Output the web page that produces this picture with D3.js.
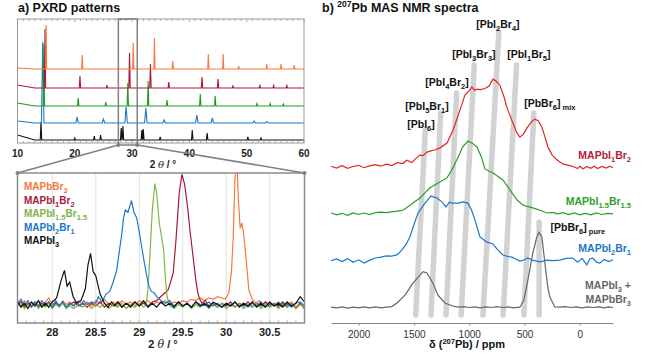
<!DOCTYPE html>
<html>
<head>
<meta charset="utf-8">
<script src="https://cdn.jsdelivr.net/npm/d3@7"></script>
<style>
  body { margin: 0; background: #fff; }
  text { font-family: 'Liberation Sans', Arial, sans-serif; }
</style>
</head>
<body>
<div id="chart"></div>
<script>
// ---------- data: a) PXRD overview (peaks as [2theta, height]) ----------
let pxrdNames = ['MAPbI_{3}', 'MAPbI_{2}Br_{1}', 'MAPbI_{1.5}Br_{1.5}', 'MAPbI_{1}Br_{2}', 'MAPbBr_{3}']
let pxrdOffsets = [3, 20, 37, 55, 74]
let pxrdLead = [5, 2, 3, 3, 1]
let pxrdWidths = [0.13, 0.22, 0.12, 0.12, 0.1]

let peaksI3 = [[14.1, 18], [20.0, 2], [23.4, 4], [24.5, 5], [28.1, 12], [28.4, 14], [31.7, 10], [31.95, 11], [34.9, 3], [40.5, 10], [43.1, 7], [50.2, 3], [52.5, 2]]
let peaksI2Br1 = [[14.4, 81], [20.4, 6], [25.0, 4], [28.95, 16], [32.4, 15], [35.6, 3], [41.3, 8], [44.0, 5], [51.3, 2], [53.5, 1.5]]
let peaksI15Br15 = [[14.6, 62], [20.6, 8], [25.4, 4], [29.25, 23], [32.8, 25], [36.1, 6], [41.9, 12], [44.5, 10], [51.8, 2.5], [54.1, 2.5], [56.4, 2]]
let peaksI1Br2 = [[14.8, 59], [20.9, 12], [25.6, 3], [29.55, 35], [33.2, 24], [36.4, 6], [42.2, 11], [45.0, 9], [47.6, 2], [52.3, 2.5], [54.7, 2.5], [57.0, 2.5]]
let peaksBr3 = [[15.0, 44], [21.3, 14], [30.2, 26], [33.9, 31], [37.1, 8], [43.3, 15], [45.9, 15], [48.6, 3], [53.5, 5], [56.0, 5], [58.3, 4]]
let pxrdPeaks = [peaksI3, peaksI2Br1, peaksI15Br15, peaksI1Br2, peaksBr3]
let topTicks = [10, 20, 30, 40, 50, 60]
let zoomRange = [27.6, 30.9]

// ---------- data: a) zoom 27.6 - 30.9 deg ----------
let zoomI3 = [[27.6, 2], [27.64, -2], [27.68, 1], [27.72, -3], [27.76, 2], [27.8, -1], [27.84, 3], [27.88, -2], [27.92, 1], [27.96, -2], [28.0, 2], [28.05, 5], [28.1, 18], [28.14, 26], [28.17, 14], [28.2, 17], [28.24, 6], [28.28, 1], [28.33, 3], [28.38, 12], [28.41, 30], [28.44, 39], [28.47, 25], [28.5, 22], [28.55, 8], [28.6, 1], [28.64, -2], [28.68, 2], [28.72, -1], [28.76, 2], [28.8, -2], [28.85, 1], [28.9, -2], [28.95, 2], [29.0, -1], [29.05, 3], [29.1, -2], [29.15, 1], [29.2, -2], [29.25, 2], [29.3, -1], [29.35, 1], [29.4, -2], [29.45, 2], [29.5, -1], [29.55, 1], [29.6, -2], [29.65, 2], [29.7, -1], [29.75, 1], [29.8, -2], [29.85, 2], [29.9, 0], [29.95, -2], [30.0, 1], [30.05, -1], [30.1, 2], [30.15, -2], [30.2, 1], [30.25, -1], [30.3, 2], [30.35, -2], [30.4, 1], [30.45, -2], [30.5, 2], [30.55, -1], [30.6, 1], [30.65, -2], [30.7, 2], [30.75, -1], [30.8, 1], [30.85, 6], [30.9, 2]]
let zoomI2Br1 = [[27.6, 1], [27.64, 4], [27.68, -1], [27.72, 3], [27.76, -2], [27.8, 2], [27.84, -1], [27.88, 3], [27.92, 0], [27.96, 2], [28.0, -2], [28.04, 3], [28.08, -1], [28.12, 2], [28.16, -2], [28.2, 1], [28.24, -1], [28.28, 2], [28.32, -1], [28.36, 3], [28.4, 0], [28.45, 2], [28.5, 1], [28.53, 6], [28.57, 2], [28.62, 8], [28.66, 10], [28.7, 17], [28.74, 26], [28.77, 40], [28.8, 54], [28.82, 66], [28.84, 72], [28.87, 70], [28.91, 79], [28.94, 70], [28.97, 66], [29.0, 55], [29.02, 47], [29.05, 35], [29.08, 24], [29.11, 14], [29.14, 10], [29.17, 9], [29.2, 6], [29.25, 3], [29.3, 1], [29.35, 3], [29.4, -1], [29.45, 2], [29.5, -1], [29.55, 1], [29.6, -2], [29.65, 2], [29.7, 0], [29.75, -1], [29.8, 2], [29.85, -1], [29.9, 1], [29.95, -2], [30.0, 1], [30.05, -1], [30.1, 2], [30.15, -1], [30.2, 1], [30.25, -2], [30.3, 1], [30.35, -1], [30.4, 2], [30.45, -2], [30.5, 1], [30.55, -1], [30.6, 2], [30.65, -1], [30.7, 1], [30.75, -2], [30.8, 1], [30.85, 2], [30.9, -1]]
let zoomI15Br15 = [[27.6, -1], [27.64, 1], [27.68, -3], [27.72, 0], [27.76, -2], [27.8, 1], [27.84, -3], [27.88, 0], [27.92, -2], [27.96, 1], [28.0, -3], [28.04, 0], [28.08, -2], [28.12, 1], [28.16, -3], [28.2, -1], [28.25, -3], [28.3, 0], [28.35, -2], [28.4, 1], [28.45, -3], [28.5, 0], [28.55, -2], [28.6, 1], [28.65, -3], [28.7, 0], [28.75, -2], [28.8, 1], [28.85, -3], [28.9, 0], [28.95, -2], [29.0, 1], [29.05, -2], [29.08, 0], [29.1, 12], [29.12, 34], [29.15, 72], [29.18, 92], [29.2, 85], [29.21, 77], [29.23, 62], [29.25, 54], [29.28, 42], [29.3, 20], [29.32, 6], [29.35, -1], [29.4, -3], [29.45, 0], [29.5, -2], [29.55, 1], [29.6, -3], [29.65, 0], [29.7, -2], [29.75, 1], [29.8, -3], [29.85, 0], [29.9, -2], [29.95, 1], [30.0, -3], [30.05, 0], [30.1, -2], [30.15, 1], [30.2, -3], [30.25, 0], [30.3, -2], [30.35, 1], [30.4, -3], [30.45, 0], [30.5, -2], [30.55, 1], [30.6, -3], [30.65, 0], [30.7, -2], [30.75, 1], [30.8, -3], [30.85, 0], [30.9, -2]]
let zoomI1Br2 = [[27.6, 0], [27.64, 2], [27.68, -2], [27.72, 1], [27.76, -1], [27.8, 2], [27.84, -2], [27.88, 1], [27.92, -1], [27.96, 2], [28.0, -2], [28.04, 1], [28.08, -1], [28.12, 2], [28.16, -2], [28.2, 0], [28.25, 2], [28.3, -1], [28.35, 1], [28.4, -2], [28.45, 1], [28.5, -1], [28.55, 2], [28.6, -2], [28.65, 1], [28.7, -1], [28.75, 2], [28.8, -2], [28.85, 1], [28.9, -1], [28.95, 2], [29.0, -1], [29.05, 1], [29.1, -1], [29.15, 2], [29.2, 3], [29.23, 5], [29.28, 8], [29.33, 11], [29.36, 17], [29.39, 24], [29.42, 47], [29.44, 66], [29.46, 85], [29.49, 99], [29.52, 92], [29.54, 82], [29.56, 72], [29.58, 58], [29.6, 47], [29.63, 30], [29.65, 19], [29.67, 10], [29.69, 5], [29.72, 1], [29.76, 3], [29.8, -1], [29.85, 1], [29.9, -2], [29.95, 1], [30.0, -1], [30.05, 2], [30.1, -2], [30.15, 1], [30.2, -1], [30.25, 2], [30.3, -2], [30.35, 1], [30.4, -1], [30.45, 2], [30.5, -2], [30.55, 1], [30.6, -1], [30.65, 2], [30.7, -2], [30.75, 1], [30.8, -3], [30.85, 1], [30.9, -3]]
let zoomBr3 = [[27.6, 2], [27.64, -1], [27.68, 3], [27.72, 0], [27.76, 2], [27.8, -1], [27.84, 3], [27.88, 0], [27.92, 2], [27.96, 5], [28.0, 0], [28.04, 2], [28.08, -1], [28.12, 3], [28.16, 0], [28.2, 2], [28.25, -1], [28.3, 3], [28.35, 0], [28.4, 2], [28.45, -1], [28.5, 3], [28.55, 1], [28.6, 4], [28.65, 0], [28.7, 2], [28.75, -1], [28.8, 3], [28.85, 0], [28.9, 2], [28.95, -1], [29.0, 3], [29.05, 1], [29.1, 3], [29.15, 0], [29.2, 2], [29.25, 1], [29.3, 3], [29.35, 0], [29.4, 2], [29.45, 1], [29.5, 3], [29.55, 2], [29.6, 4], [29.65, 3], [29.7, 5], [29.75, 3], [29.8, 5], [29.85, 4], [29.9, 6], [29.95, 5], [29.99, 4], [30.03, 9], [30.06, 25], [30.08, 50], [30.1, 95], [30.12, 112], [30.14, 80], [30.16, 58], [30.18, 62], [30.2, 54], [30.23, 34], [30.26, 11], [30.3, 4], [30.34, 1], [30.38, 3], [30.42, -1], [30.46, 2], [30.5, -1], [30.55, 1], [30.6, -2], [30.65, 1], [30.7, -1], [30.75, 2], [30.8, -2], [30.85, 1], [30.9, -2]]
let zoomSeries = [zoomI3, zoomI2Br1, zoomI15Br15, zoomI1Br2, zoomBr3]
let zoomTicks = [28, 28.5, 29, 29.5, 30, 30.5]

// ---------- data: b) 207Pb NMR [ppm, intensity] ----------
let nmrGray = [[2250, 0.2], [2200, 0], [2150, 0.3], [2100, -0.1], [2050, 0.2], [2000, 0], [1950, 0.3], [1900, 0], [1850, 0.3], [1800, 0], [1750, 0.2], [1700, 0.4], [1653, 1.6], [1581, 4.2], [1509, 8.2], [1445, 10.9], [1418, 12], [1382, 11.6], [1328, 8.2], [1283, 4.2], [1220, 1.6], [1150, 0.6], [1100, 0.2], [1050, 0.4], [1000, 0.1], [950, 0.3], [900, 0], [850, 0.3], [800, 0.1], [750, 0.4], [700, 0.1], [650, 0.3], [600, 0], [542, 0.2], [506, 2.6], [470, 9.2], [425, 18.2], [389, 23.6], [370, 25.2], [343, 23.6], [316, 14.9], [290, 7], [271, 3.6], [226, 0.3], [180, 0.2], [130, 0.4], [80, 0.1], [30, 0.3], [-20, 0], [-70, 0.3], [-120, 0.1], [-170, 0.3], [-220, 0], [-260, 0.3], [-300, 0.1]]
let nmrI2Br1 = [[2250, 0], [2200, 0.6], [2150, -0.3], [2100, 0.7], [2050, -0.5], [2000, 0.3], [1950, -0.8], [1900, 0.2], [1850, 0.9], [1800, 1.2], [1750, 1.6], [1700, 1.5], [1650, 2], [1608, 3.6], [1570, 5.5], [1536, 8], [1500, 12], [1463, 15.9], [1400, 19.2], [1346, 21.6], [1320, 21.2], [1292, 20.9], [1247, 19.6], [1210, 17.9], [1180, 19.5], [1156, 19.2], [1102, 19.2], [1057, 19.6], [1012, 19.2], [980, 17], [949, 13.6], [903, 7.9], [840, 6.2], [786, 5.6], [740, 3.5], [696, 1.9], [650, 1.4], [614, 1.2], [570, 0.4], [542, -0.1], [500, 0.3], [470, 0.9], [430, 0.2], [361, -0.4], [300, 0.2], [250, 0], [181, 0.2], [120, 0.8], [63, 0.9], [20, -0.5], [-20, 0.8], [-63, -1.4], [-90, 0.6], [-117, 0.9], [-150, -0.5], [-181, -0.8], [-220, 0.4], [-260, -0.3], [-300, 0.3]]
let nmrI15Br15 = [[2250, 0.3], [2200, -0.3], [2150, 0.2], [2100, -0.5], [2050, 0.3], [2000, -0.2], [1950, 0.3], [1900, -0.2], [1850, 0.4], [1800, 0.6], [1750, 0.4], [1700, 0.7], [1650, 0.9], [1596, 1.3], [1550, 2.5], [1506, 3.7], [1445, 5.3], [1400, 7], [1355, 8.7], [1281, 10.3], [1201, 12], [1156, 14.7], [1100, 19], [1060, 22.3], [1012, 24.3], [970, 23.5], [930, 22.3], [890, 19], [858, 15], [820, 14.2], [786, 13.7], [740, 12.5], [696, 11.3], [632, 8], [569, 4.7], [515, 3], [470, 2.4], [425, 2], [360, 1.2], [298, 0.3], [250, 0.5], [200, 0], [150, 0.4], [100, -0.2], [50, 0.3], [0, -0.3], [-50, 0.2], [-100, -0.3], [-150, 0.3], [-200, -0.2], [-250, 0.2], [-300, 0]]
let nmrI1Br2 = [[2250, 0.3], [2200, -0.3], [2150, 0.5], [2100, -0.4], [2050, 0.2], [2000, 0.6], [1950, -0.2], [1900, 0.4], [1850, 0.8], [1800, 0.3], [1750, 1], [1700, 0.5], [1650, 1.5], [1600, 1.2], [1565, 2.3], [1520, 1.5], [1480, 3], [1445, 4], [1420, 3.8], [1382, 5], [1340, 5.5], [1310, 5.7], [1260, 6.5], [1201, 8], [1147, 12.3], [1084, 19], [1039, 24], [1000, 25.5], [976, 26.7], [950, 25.6], [930, 26], [900, 25.8], [858, 26.2], [820, 27], [786, 29.3], [755, 28.6], [723, 27.3], [690, 24], [660, 20], [630, 17], [605, 14.7], [570, 11.5], [542, 10], [510, 11], [479, 13], [440, 15], [407, 16], [375, 15.5], [343, 13.3], [315, 10], [289, 6.7], [250, 4], [210, 2.5], [181, 1.7], [150, 1], [100, 0.6], [60, 0.2], [20, -0.5], [0, 0.3], [-30, -0.6], [-60, 0.2], [-100, -0.4], [-130, 0.3], [-160, -0.5], [-200, 0.2], [-240, -0.3], [-270, 0.3], [-300, -0.2]]
let nmrSeries = [nmrGray, nmrI2Br1, nmrI15Br15, nmrI1Br2]
let nmrOffsets = [3.4, 19.1, 34.7, 50.3]
let nmrNames = [['MAPbI_{3} +', 'MAPbBr_{3}'], ['MAPbI_{2}Br_{1}'], ['MAPbI_{1.5}Br_{1.5}'], ['MAPbI_{1}Br_{2}']]
let nmrTicks = [2000, 1500, 1000, 500, 0]

// guide bars: ppm at the bottom and at the top, top height
let sitePpmBottom = [1484, 1346, 1210, 1073, 876, 694, 506, 368]
let sitePpmTop = [1397, 1258, 1114, 955, 732, 572, 416, 368]
let siteTopHeight = [62.7, 68.3, 75, 84.3, 95.3, 84.3, 68.3, 32]
let siteLabels = ['[PbI_{6}]', '[PbI_{5}Br_{1}]', '[PbI_{4}Br_{2}]', '[PbI_{3}Br_{3}]', '[PbI_{2}Br_{4}]', '[PbI_{1}Br_{5}]', '[PbBr_{6}]_{ mix}', '[PbBr_{6}]_{ pure}']
let siteLabelPpm = [1436, 1382, 1201, 958, 741, 461, 271, 18]
let siteLabelHeight = [63.3, 69.3, 77.3, 86.7, 96.7, 86.7, 70.3, 29]

// ---------- layout ----------
let colorsTop = ['#111111', '#1a78c8', '#1e9a22', '#a8183a', '#f7793a']
let colorsZoom = ['#111111', '#1a78c8', '#7ab648', '#a8183a', '#f7793a']
let nmrLine = ['#666666', '#1a78c8', '#2a9d2a', '#e3261e']
let nmrLabel = ['#666666', '#1a78c8', '#2f9f2c', '#b5213b']

let svg = d3
  .select('#chart')
  .append('svg')
  .attr('width', 653)
  .attr('height', 357)

let font = "'Liberation Sans', Arial, sans-serif"

// text with _{sub} and ^{sup} parts
function rich(sel, str, size, small) {
  let parts = str.split(/([_^]\{[^}]*\})/)
  let shift = 0
  parts.forEach(p => {
    if (!p) return
    let target = 0
    let txt = p
    let fs = size
    if (p[0] === '_' && p[1] === '{') {
      target = size * 0.3
      txt = p.slice(2, -1)
      fs = small
    } else if (p[0] === '^' && p[1] === '{') {
      target = -size * 0.38
      txt = p.slice(2, -1)
      fs = small
    }
    sel
      .append('tspan')
      .attr('dy', target - shift)
      .attr('font-size', fs)
      .text(txt.replace(/ /g, '\u00a0'))
    shift = target
  })
  return sel
}

// ---------- panel titles ----------
rich(svg.append('text').attr('x', 18).attr('y', 12).attr('font-weight', 'bold').attr('font-size', 12.5).attr('fill', '#111'), 'a) PXRD patterns', 12.5, 12.5)
rich(svg.append('text').attr('x', 322).attr('y', 12).attr('font-weight', 'bold').attr('font-size', 12.5).attr('fill', '#111'), 'b) ^{207}Pb MAS NMR spectra', 12.5, 8.5)

// ---------- a) top overview ----------
let xTop = d3.scaleLinear().domain([10, 60]).range([17.5, 304])
let yTop = d3.scaleLinear().domain([0, 124]).range([143, 19])

svg.append('clipPath').attr('id', 'clipTop')
  .append('rect').attr('x', 17.5).attr('y', 19).attr('width', 286.5).attr('height', 124)

let topG = svg.append('g')

// minor ticks on top and bottom frame
d3.range(10, 61, 1).forEach(v => {
  let len = v % 10 === 0 ? 3 : 2
  topG.append('line').attr('x1', xTop(v)).attr('x2', xTop(v)).attr('y1', 19).attr('y2', 19 + len).attr('stroke', '#999').attr('stroke-width', 0.8)
  topG.append('line').attr('x1', xTop(v)).attr('x2', xTop(v)).attr('y1', 143).attr('y2', 143 - len).attr('stroke', '#999').attr('stroke-width', 0.8)
})

let lineTop = d3.line().x(d => xTop(d[0])).y(d => yTop(d[1]))

pxrdPeaks.forEach((peaks, i) => {
  let w = pxrdWidths[i]
  let off = pxrdOffsets[i]
  let pts = [[10, pxrdLead[i] + off], [13, off]]
  peaks.forEach(p => {
    pts.push([p[0] - w, off], [p[0], p[1] + off], [p[0] + w, off])
  })
  pts.push([60, off])
  pts.sort((a, b) => a[0] - b[0])
  topG.append('path')
    .attr('d', lineTop(pts))
    .attr('fill', 'none')
    .attr('stroke', colorsTop[i])
    .attr('stroke-width', 1.1)
    .attr('clip-path', 'url(#clipTop)')
})

topG.append('rect')
  .attr('x', 17.5).attr('y', 19).attr('width', 286.5).attr('height', 124)
  .attr('fill', 'none').attr('stroke', '#999').attr('stroke-width', 1)

topG.selectAll('.tick-top')
  .data(topTicks)
  .enter()
  .append('text')
  .attr('x', d => xTop(d))
  .attr('y', 157)
  .attr('text-anchor', 'middle')
  .attr('font-weight', 'bold')
  .attr('font-size', 10)
  .attr('fill', '#222')
  .text(d => d)

function thetaLabel(x, y, size) {
  let t = svg.append('text').attr('x', x).attr('y', y).attr('text-anchor', 'middle')
    .attr('font-weight', 'bold').attr('font-size', size).attr('fill', '#222')
  t.append('tspan').text('2\u00a0')
  t.append('tspan').attr('font-style', 'italic').attr('font-family', 'DejaVu Serif, serif').attr('font-weight', 'normal').text('\u03b8')
  t.append('tspan').text('\u00a0/\u00a0\u00b0')
}
thetaLabel(163, 168, 10)

// zoom window and connectors
let zx0 = xTop(zoomRange[0])
let zx1 = xTop(zoomRange[1])
svg.append('rect')
  .attr('x', zx0).attr('y', 19).attr('width', zx1 - zx0).attr('height', 126)
  .attr('fill', 'none').attr('stroke', '#808080').attr('stroke-width', 1.5)

// ---------- a) zoomed panel ----------
let xZ = d3.scaleLinear().domain(zoomRange).range([17.5, 304.5])
let yZ = d3.scaleLinear().domain([-14, 100]).range([323, 173])

svg.append('clipPath').attr('id', 'clipZoom')
  .append('rect').attr('x', 17.5).attr('y', 173).attr('width', 287).attr('height', 150)

let zoomG = svg.append('g')

zoomG.selectAll('.grid')
  .data(zoomTicks)
  .enter()
  .append('line')
  .attr('x1', d => xZ(d)).attr('x2', d => xZ(d))
  .attr('y1', 173).attr('y2', 323)
  .attr('stroke', '#e2e2e2').attr('stroke-width', 1)

d3.range(27.7, 30.9, 0.1).forEach(v => {
  zoomG.append('line').attr('x1', xZ(v)).attr('x2', xZ(v)).attr('y1', 323).attr('y2', 320.5).attr('stroke', '#999').attr('stroke-width', 0.8)
})

let lineZ = d3.line().x(d => xZ(d[0])).y(d => yZ(d[1]))
let drawOrder = [4, 3, 2, 1, 0]
drawOrder.forEach(i => {
  zoomG.append('path')
    .attr('d', lineZ(zoomSeries[i]))
    .attr('fill', 'none')
    .attr('stroke', colorsZoom[i])
    .attr('stroke-width', 1.2)
    .attr('clip-path', 'url(#clipZoom)')
})

zoomG.append('rect')
  .attr('x', 17.5).attr('y', 173).attr('width', 287).attr('height', 150)
  .attr('fill', 'none').attr('stroke', '#8a8a8a').attr('stroke-width', 1.5)

zoomG.selectAll('.tick-zoom')
  .data(zoomTicks)
  .enter()
  .append('text')
  .attr('x', d => xZ(d))
  .attr('y', 336)
  .attr('text-anchor', 'middle')
  .attr('font-weight', 'bold')
  .attr('font-size', 11)
  .attr('fill', '#222')
  .text(d => d)

thetaLabel(163, 348, 11)

// connectors from window to zoom panel
let conn = [[zx0, 145, 17.5, 173], [zx1, 145, 304.5, 173]]
conn.forEach(c => {
  svg.append('line').attr('x1', c[0]).attr('y1', c[1]).attr('x2', c[2]).attr('y2', c[3])
    .attr('stroke', '#808080').attr('stroke-width', 1.5)
  svg.append('circle').attr('cx', c[0]).attr('cy', c[1]).attr('r', 2).attr('fill', '#808080')
  svg.append('circle').attr('cx', c[2]).attr('cy', c[3]).attr('r', 2).attr('fill', '#808080')
})

// legend
let legendOrder = [4, 3, 2, 1, 0]
legendOrder.forEach((i, k) => {
  let t = svg.append('text')
    .attr('x', 24).attr('y', 190 + k * 13.5)
    .attr('font-weight', 'bold').attr('font-size', 10)
    .attr('fill', colorsZoom[i])
  rich(t, pxrdNames[i], 10, 7.5)
})

// ---------- b) NMR ----------
let xN = d3.scaleLinear().domain([2250, -300]).range([331, 613])
let yN = d3.scaleLinear().domain([0, 100]).range([318, 18])

let nmrG = svg.append('g')

sitePpmBottom.forEach((b, i) => {
  nmrG.append('line')
    .attr('x1', xN(b)).attr('y1', yN(1))
    .attr('x2', xN(sitePpmTop[i])).attr('y2', yN(siteTopHeight[i]))
    .attr('stroke', '#d2d2d2').attr('stroke-width', 5.5).attr('stroke-linecap', 'round')
})

let lineN = d3.line().x(d => xN(d[0])).y(d => yN(d[1]))
nmrSeries.forEach((s, i) => {
  let pts = s.map(d => [d[0], d[1] + nmrOffsets[i]])
  nmrG.append('path')
    .attr('d', lineN(pts))
    .attr('fill', 'none')
    .attr('stroke', nmrLine[i])
    .attr('stroke-width', 1.2)
})

siteLabels.forEach((lab, i) => {
  let t = nmrG.append('text')
    .attr('x', xN(siteLabelPpm[i]))
    .attr('y', yN(siteLabelHeight[i]))
    .attr('text-anchor', 'middle')
    .attr('font-weight', 'bold')
    .attr('font-size', 10.5)
    .attr('fill', '#111')
  rich(t, lab, 10.5, 7.5)
})

nmrNames.forEach((lines, i) => {
  let baseY = yN(nmrOffsets[i]) - (lines.length > 1 ? 19 : 9)
  if (i === 3) baseY = yN(nmrOffsets[i]) - 8
  lines.forEach((ln, k) => {
    let t = nmrG.append('text')
      .attr('x', 631)
      .attr('y', baseY + k * 14)
      .attr('text-anchor', 'end')
      .attr('font-weight', 'bold')
      .attr('font-size', 10.5)
      .attr('fill', nmrLabel[i])
    rich(t, ln, 10.5, 7.5)
  })
})

let nmrAxis = d3.axisBottom(xN).tickValues(nmrTicks).tickFormat(d3.format('d')).tickSize(2.5).tickSizeOuter(0)
let axG = svg.append('g')
  .attr('transform', 'translate(0,323)')
  .call(nmrAxis)
axG.select('.domain').attr('stroke', '#888')
axG.selectAll('.tick line').attr('stroke', '#888')
axG.selectAll('.tick text').attr('font-size', 10).attr('fill', '#333').attr('font-family', font).attr('dy', '0.9em')

let axTitle = svg.append('text')
  .attr('x', 467).attr('y', 348)
  .attr('text-anchor', 'middle')
  .attr('font-weight', 'bold')
  .attr('font-size', 11)
  .attr('fill', '#111')
rich(axTitle, '\u03b4 (^{207}Pb) / ppm', 11, 7.5)
</script>
</body>
</html>
